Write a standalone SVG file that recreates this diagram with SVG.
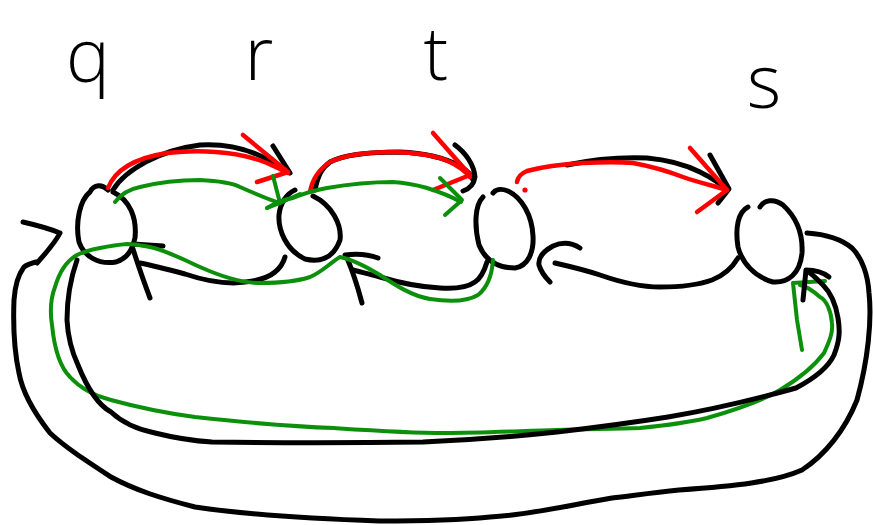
<svg xmlns="http://www.w3.org/2000/svg" width="873" height="525" viewBox="0 0 873 525">
  <style>
    path { fill: none; stroke-linecap: round; stroke-linejoin: round; }
    .ink { stroke: #000; stroke-width: 5; }
    .red { stroke: #ff0000; stroke-width: 4.5; }
    .grn { stroke: #0c900c; stroke-width: 4; }
    .lbl { font-family: "Open Sans", "Liberation Sans", sans-serif; font-weight: 300; font-size: 74px; fill: #000; text-anchor: middle; }
  </style>
  <rect width="873" height="525" fill="#fff"/>

  <!-- state nodes: hand-drawn circles with labels above -->
  <g id="node-q">
    <text class="lbl" x="88" y="82">q</text>
    <path class="ink" d="M108,190 C102,184 94,184 90,192 C80,200 75,222 79,242 C84,256 98,265 116,262 C128,258 132,250 135,238 C137,218 130,200 113,192"/>
  </g>
  <g id="node-r">
    <text class="lbl" x="259" y="80">r</text>
    <path class="ink" d="M295,190 C286,194 280,204 279,215 C278,230 286,250 305,259 C318,262 333,260 340,240 C342,225 332,205 313,196"/>
  </g>
  <g id="node-t">
    <text class="lbl" x="436" y="80">t</text>
    <path class="ink" d="M483,197 C475,205 474,225 479,245 C486,262 500,268 515,268 C528,266 534,252 533,236 C532,215 522,198 508,191 C500,188 495,190 493,193"/>
  </g>
  <g id="node-s">
    <text class="lbl" x="764" y="108">s</text>
    <path class="ink" d="M748,207 C738,212 735,228 738,247 C742,263 755,277 773,282 C788,283 800,274 802,253 C803,235 797,218 783,205 C774,198 764,200 760,207"/>
  </g>

  <g id="connectors">
    <!-- q -> r (top) -->
    <path class="ink" d="M113,190 C125,170 160,150 200,145 C235,143 265,155 287,172"/>
    <path class="ink" d="M273,146 L290,173"/>
    <path class="red" d="M108,188 C115,170 135,158 167,153 C195,150 235,150 267,163 C278,168 284,171 288,173"/>
    <path class="red" d="M243,135 L288,172 L257,182"/>
    <path class="grn" d="M115,202 C122,193 130,189 140,187 C160,182 180,180 200,180 C220,181 232,183 240,187 C258,195 270,200 280,203 L300,194"/>
    <path class="grn" d="M273,176 L280,203 L267,208"/>

    <!-- r -> t (top) -->
    <path class="ink" d="M315,190 C318,175 322,168 330,162 C345,154 370,152 400,152 C425,153 445,158 460,166 C468,171 472,176 473,180"/>
    <path class="ink" d="M455,145 C466,153 474,165 475,177 C474,184 469,189 463,191"/>
    <path class="red" d="M310,192 C312,180 318,170 330,162 C345,155 365,152 393,152 C415,152 438,156 450,162 C460,167 466,172 470,177"/>
    <path class="red" d="M433,133 L470,175 L433,190"/>
    <path class="grn" d="M267,208 C275,203 285,199 293,198 C305,193 315,190 327,188 C350,184 375,182 393,182 C410,183 420,186 427,188 C440,192 452,197 461,202"/>
    <path class="grn" d="M440,178 L462,200 L445,215"/>

    <!-- t -> s (top) -->
    <path class="ink" d="M567,165 C590,160 620,157 647,158 C670,160 688,166 700,172 C712,178 722,185 727,190"/>
    <path class="ink" d="M710,155 L729,189 L718,203"/>
    <path class="red" d="M517,182 C518,176 522,173 527,171 C545,166 565,164 583,163 C605,162 620,162 633,163 C655,167 670,172 683,177 C700,183 718,187 727,190"/>
    <path class="red" d="M690,148 L727,190 L697,212"/>
    <circle cx="525" cy="190" r="2.6" fill="#ff0000"/>

    <!-- s -> t (bottom) -->
    <path class="ink" d="M738,258 C732,268 725,275 712,280 C698,285 680,287 660,287 C640,287 620,282 600,275 C585,270 568,266 555,263"/>
    <path class="ink" d="M580,248 C572,243 562,242 553,246 C544,251 538,258 539,265 C541,272 546,278 550,282"/>

    <!-- t -> r (bottom) -->
    <path class="ink" d="M487,262 C484,272 481,278 475,282 C468,287 455,289 440,288 C420,287 400,283 380,277 C370,274 360,272 353,270"/>
    <path class="ink" d="M378,258 C370,255 360,253 345,255 M347,258 C353,272 358,288 362,303"/>

    <!-- r -> q (bottom) -->
    <path class="ink" d="M285,257 C283,264 280,268 275,272 C268,278 255,282 233,283 C215,283 200,279 185,274 C170,270 155,266 140,263"/>
    <path class="ink" d="M163,246 L133,244 M133,249 C138,265 144,282 150,298"/>

    <!-- green return path t -> r -> q and round to s -->
    <path class="grn" d="M493,260 C492,275 488,287 478,295 C468,301 450,302 430,299 C412,296 395,285 380,275 C365,266 350,259 340,257 C330,263 322,272 310,277 C295,282 275,283 260,283 C240,283 220,276 200,267 C180,258 165,250 150,247 C140,245 133,244 127,244 C115,245 105,247 100,248 C90,250 83,252 77,255 C68,260 60,270 55,287 C50,300 50,312 52,325 C54,345 58,365 70,377 C80,388 95,396 111,400 C140,408 165,413 195,417 C250,423 300,427 334,428 C380,431 410,433 445,433 C480,433 520,431 557,430 C590,429 615,429 640,428 C670,425 690,422 707,418 C735,410 760,402 780,390 C800,378 815,365 824,353 C830,340 833,332 832,323 C831,310 826,300 820,297 C812,290 806,286 800,285"/>
    <path class="grn" d="M825,281 L793,283 L797,320 L802,350"/>

    <!-- inner black loop q -> s -->
    <path class="ink" d="M77,260 C70,280 67,300 67,320 C68,340 72,352 78,365 C88,390 98,405 111,412 C125,425 140,430 155,433 C175,438 195,441 212,442 C280,443 350,443 423,442 C470,440 520,436 557,432 C600,427 630,423 668,417 C710,410 760,398 796,388 C815,378 828,368 834,355 C840,340 840,330 838,318 C835,300 828,290 823,285 C818,280 814,276 810,273"/>
    <path class="ink" d="M803,300 L806,270 C815,270 824,273 829,277"/>

    <!-- outer black loop s -> q -->
    <path class="ink" d="M807,233 C822,234 840,238 852,248 C862,258 868,275 869,293 C872,320 868,360 857,400 C845,430 825,455 802,470 C775,482 735,486 679,490 C650,493 630,496 612,498 C570,505 530,515 490,517 C450,521 410,521 379,521 C320,519 250,515 195,507 C160,498 135,490 111,477 C85,460 65,447 50,433 C32,410 22,390 19,373 C14,350 13,325 14,300 C15,285 18,275 24,267 C28,264 32,263 36,262"/>
    <path class="ink" d="M23,222 C36,225 48,228 60,233 C55,243 46,253 37,263"/>
  </g>
</svg>
